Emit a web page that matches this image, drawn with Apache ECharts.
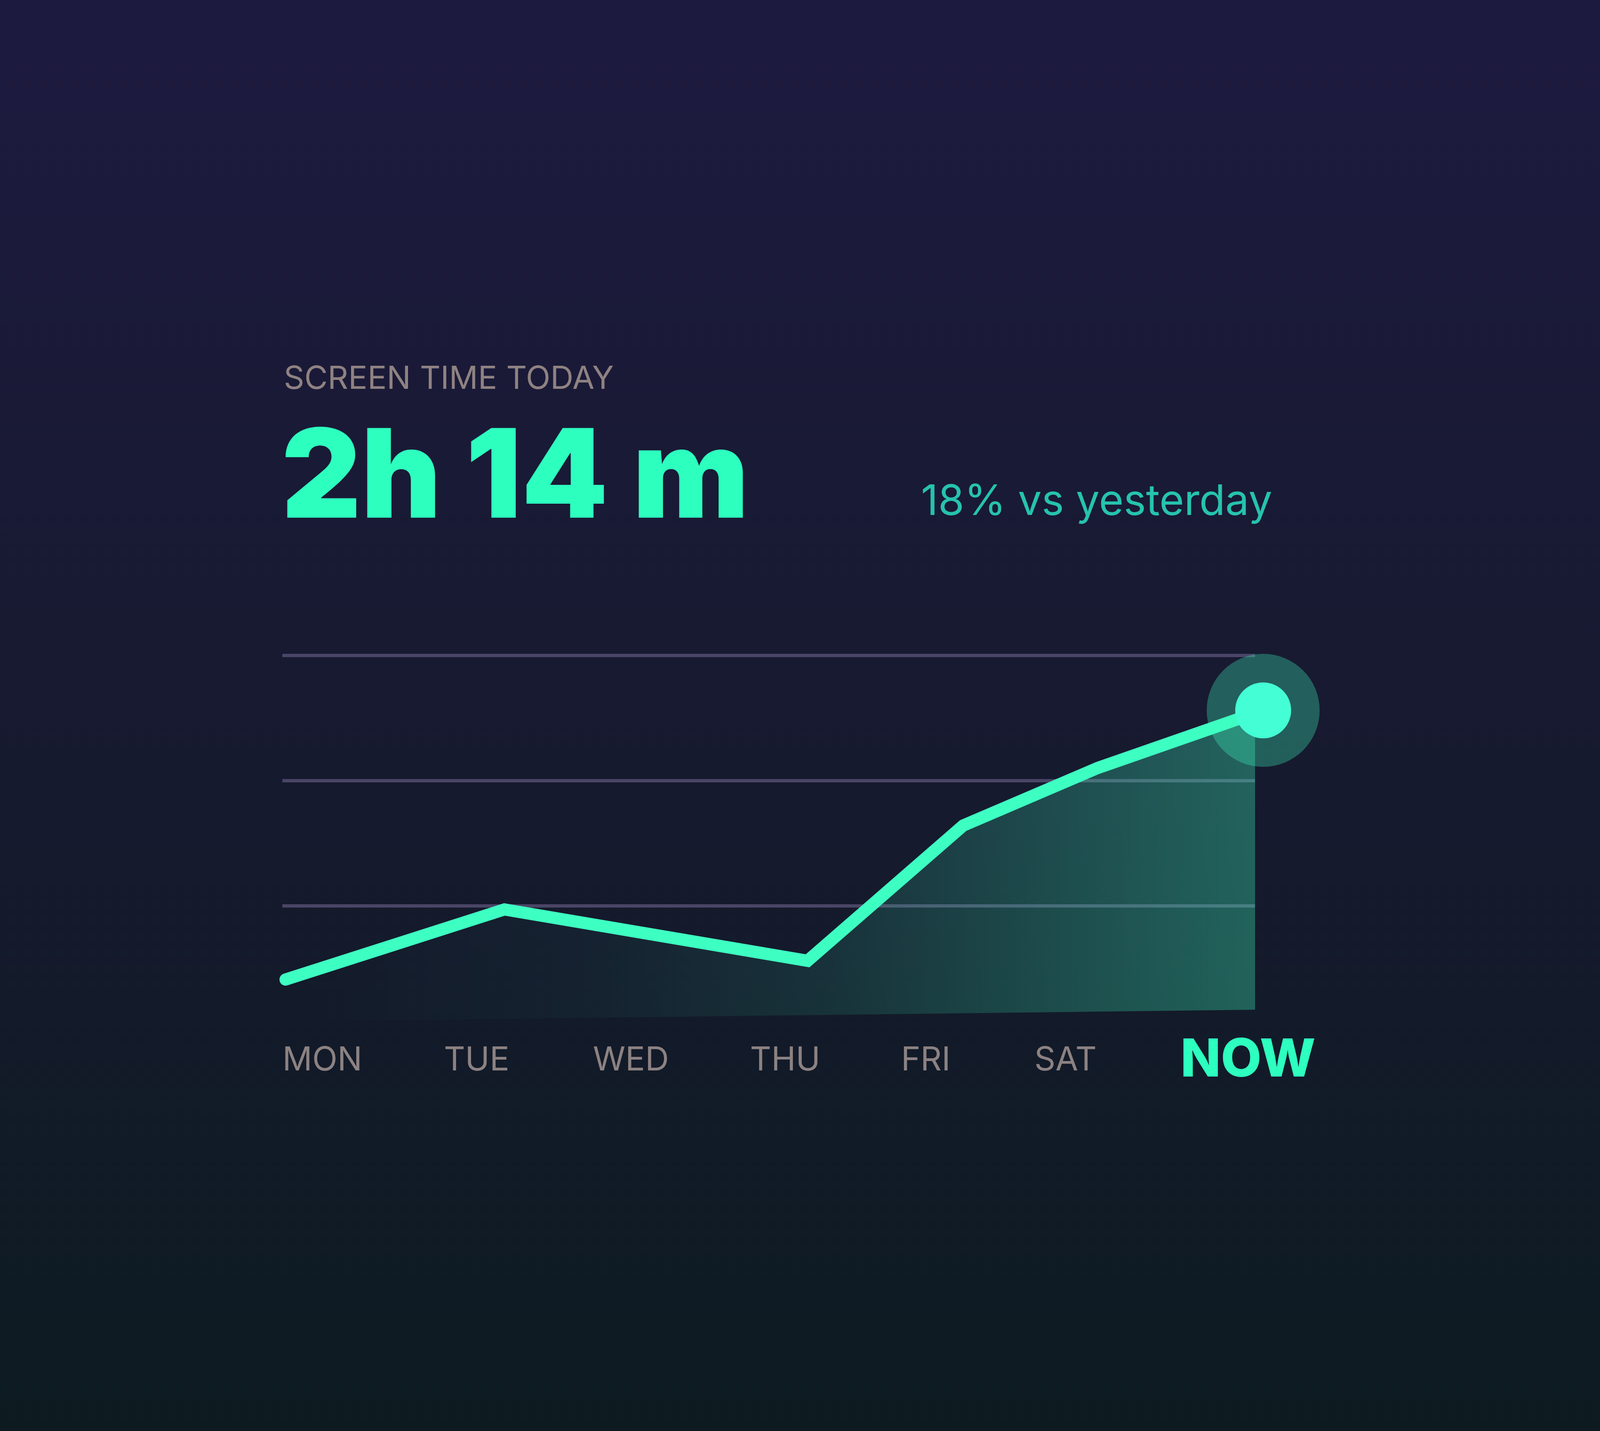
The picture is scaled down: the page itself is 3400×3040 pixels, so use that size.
<!DOCTYPE html>
<html>
<head>
<meta charset="utf-8">
<title>Screen time</title>
<script src="https://cdn.jsdelivr.net/npm/echarts@6/dist/echarts.min.js"></script>
<style>
  html, body { margin: 0; padding: 0; }
  #chart { width: 3400px; height: 3040px; }
</style>
</head>
<body>
<div id="chart"></div>
<script>
// day labels along the bottom
const days = ["MON", "TUE", "WED", "THU", "FRI", "SAT", "NOW"];
// line vertices: position in days (0 = left gridline edge, 6 = right) and value in grid steps
const pointDay = [0.02, 1.37, 3.24, 4.2, 5.03, 6.05];
const pointValue = [0.41, 0.97, 0.56, 1.64, 2.1, 2.56];
// bottom edge of the shaded area at the first and last vertex
const areaBase = [0.075, 0.17];
// header texts
const headerLabel = "SCREEN TIME TODAY";
const headerValue = "2h 14 m";
const compareText = "18% vs yesterday";

const teal = "#3effc2";
const font = "Inter";

var chart = echarts.init(document.getElementById("chart"));

//面积填充 横向渐变
var areaFill = new echarts.graphic.LinearGradient(0, 0, 1, 0, [
  { offset: 0, color: "rgba(62,255,194,0)" },
  { offset: 0.3, color: "rgba(62,255,194,0.03)" },
  { offset: 0.55, color: "rgba(62,255,194,0.1)" },
  { offset: 0.75, color: "rgba(62,255,194,0.2)" },
  { offset: 1, color: "rgba(62,255,194,0.32)" },
]);

var last = pointDay.length - 1;

var option = {
  backgroundColor: new echarts.graphic.LinearGradient(0, 0, 0, 1, [
    { offset: 0, color: "#1d1a40" },
    { offset: 0.5, color: "#171a30" },
    { offset: 1, color: "#0d1b21" },
  ]),
  title: [
    {
      text: headerLabel,
      left: 603,
      top: 772,
      padding: 0,
      textStyle: { color: "#8f8282", fontSize: 68, fontWeight: 400, fontFamily: font, lineHeight: 68 },
    },
    {
      text: headerValue,
      left: 598,
      top: 890,
      padding: 0,
      textStyle: { color: "#2dffbf", fontSize: 262, fontWeight: 900, fontFamily: font, lineHeight: 262 },
    },
    {
      text: compareText,
      left: 1957,
      top: 1022,
      padding: 0,
      textStyle: { color: "#26c3ae", fontSize: 90, fontWeight: 400, fontFamily: font, lineHeight: 90 },
    },
  ],
  grid: [
    { left: 600, right: 733, top: 1392, bottom: 850 },
    { left: 685, right: 748, top: 2100, height: 100 },
  ],
  xAxis: [
    { type: "value", gridIndex: 0, min: 0, max: 6, show: false },
    {
      type: "category",
      gridIndex: 1,
      data: days,
      boundaryGap: false,
      axisLine: { show: false },
      axisTick: { show: false },
      axisLabel: {
        interval: 0,
        margin: 53,
        verticalAlign: "middle",
        color: "#8c8282",
        fontSize: 70,
        fontFamily: font,
        formatter: function (v) {
          if (v === "NOW") return "{now|NOW}";
          if (v === "FRI") return "{fri|FRI}";
          if (v === "SAT") return "{sat|SAT}";
          return v;
        },
        rich: {
          now: { color: "#2dffbf", fontSize: 112, fontWeight: 800, fontFamily: font },
          fri: { color: "#8c8282", fontSize: 70, fontFamily: font, padding: [0, 58, 0, 0] },
          sat: { color: "#8c8282", fontSize: 70, fontFamily: font, padding: [0, 120, 0, 0] },
        },
      },
    },
  ],
  yAxis: [
    {
      type: "value",
      gridIndex: 0,
      min: 0,
      max: 3,
      interval: 1,
      axisLine: { show: false },
      axisTick: { show: false },
      axisLabel: { show: false },
      splitLine: {
        show: true,
        showMinLine: false,
        lineStyle: { color: "#4a4566", width: 7 },
      },
    },
    { type: "value", gridIndex: 1, show: false },
  ],
  series: [
    {
      // shaded area under the line, clipped at the right gridline end
      type: "custom",
      xAxisIndex: 0,
      yAxisIndex: 0,
      clip: true,
      z: 1,
      data: [[0, 0]],
      renderItem: function (params, api) {
        var pts = pointDay.map(function (d, i) {
          return api.coord([d, pointValue[i]]);
        });
        pts.push(api.coord([pointDay[last], areaBase[1]]));
        pts.push(api.coord([pointDay[0], areaBase[0]]));
        return {
          type: "polygon",
          shape: { points: pts },
          style: { fill: areaFill },
        };
      },
    },
    {
      type: "line",
      xAxisIndex: 0,
      yAxisIndex: 0,
      clip: false,
      z: 3,
      showSymbol: false,
      data: pointDay.map(function (d, i) {
        return [d, pointValue[i]];
      }),
      lineStyle: { color: teal, width: 26, cap: "round", join: "miter" },
    },
    {
      // halo around the current value
      type: "scatter",
      xAxisIndex: 0,
      yAxisIndex: 0,
      clip: false,
      z: 2,
      symbolSize: 240,
      itemStyle: { color: "rgba(62,255,194,0.3)", opacity: 1 },
      data: [[pointDay[last], pointValue[last]]],
    },
    {
      type: "scatter",
      xAxisIndex: 0,
      yAxisIndex: 0,
      clip: false,
      z: 4,
      symbolSize: 108,
      itemStyle: { color: teal, opacity: 1 },
      data: [[pointDay[last], pointValue[last]]],
    },
  ],
};

chart.setOption(option);
</script>
</body>
</html>
